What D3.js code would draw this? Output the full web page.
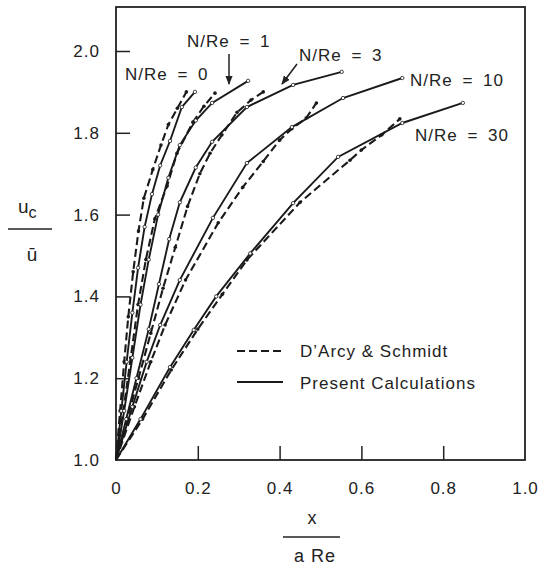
<!DOCTYPE html>
<html>
<head>
<meta charset="utf-8">
<script src="https://cdn.jsdelivr.net/npm/d3@7/dist/d3.min.js"></script>
<style>
  body { margin: 0; background: #fff; }
  svg text { font-family: "Liberation Sans", Arial, sans-serif; fill: #222; }
</style>
</head>
<body>
<svg id="chart" width="540" height="570"></svg>
<script>
// axis ticks
var xTicks = [0, 0.2, 0.4, 0.6, 0.8, 1.0];
var yTicks = [1.0, 1.2, 1.4, 1.6, 1.8, 2.0];

// D'Arcy & Schmidt (dashed), [x/(a Re), uc/ubar]
var darcy0 = [[0,1],[0.01,1.12],[0.02,1.24],[0.03,1.35],[0.042,1.46],[0.055,1.56],[0.068,1.64],[0.09,1.71],[0.11,1.77],[0.128,1.82],[0.15,1.86],[0.172,1.90]];
var darcy1 = [[0,1],[0.018,1.12],[0.036,1.25],[0.054,1.38],[0.073,1.49],[0.095,1.59],[0.125,1.67],[0.149,1.75],[0.188,1.826],[0.215,1.865],[0.242,1.897]];
var darcy3 = [[0,1],[0.027,1.1],[0.055,1.2],[0.085,1.31],[0.115,1.42],[0.145,1.52],[0.175,1.62],[0.205,1.70],[0.23,1.75],[0.259,1.795],[0.296,1.85],[0.33,1.88],[0.36,1.90]];
var darcy10 = [[0,1],[0.045,1.13],[0.085,1.24],[0.12,1.33],[0.17,1.44],[0.25,1.58],[0.31,1.667],[0.36,1.73],[0.40,1.782],[0.43,1.81],[0.465,1.836],[0.49,1.873]];
var darcy30 = [[0,1],[0.065,1.1],[0.135,1.22],[0.2,1.32],[0.26,1.405],[0.32,1.489],[0.45,1.63],[0.572,1.733],[0.60,1.758],[0.65,1.795],[0.694,1.834]];

// Present calculations (solid)
var calc0 = [[0,1],[0.013,1.12],[0.026,1.24],[0.04,1.36],[0.054,1.47],[0.07,1.57],[0.088,1.65],[0.108,1.72],[0.132,1.78],[0.161,1.863],[0.193,1.90]];
var calc1 = [[0,1],[0.02,1.12],[0.04,1.25],[0.06,1.38],[0.08,1.49],[0.103,1.60],[0.128,1.69],[0.156,1.77],[0.195,1.83],[0.235,1.873],[0.323,1.927]];
var calc3 = [[0,1],[0.025,1.1],[0.05,1.2],[0.08,1.32],[0.105,1.43],[0.13,1.54],[0.156,1.63],[0.195,1.715],[0.235,1.778],[0.32,1.863],[0.433,1.917],[0.552,1.949]];
var calc10 = [[0,1],[0.04,1.13],[0.075,1.24],[0.108,1.33],[0.156,1.44],[0.237,1.592],[0.32,1.726],[0.43,1.814],[0.555,1.885],[0.70,1.934]];
var calc30 = [[0,1],[0.06,1.1],[0.132,1.227],[0.19,1.318],[0.245,1.40],[0.328,1.505],[0.433,1.628],[0.543,1.741],[0.70,1.824],[0.848,1.873]];

var darcyCurves = [darcy0, darcy1, darcy3, darcy10, darcy30];
var calcCurves = [calc0, calc1, calc3, calc10, calc30];

var svg = d3.select("#chart");
var x = d3.scaleLinear().domain([0, 1]).range([116, 525]);
var y = d3.scaleLinear().domain([1, 2]).range([460, 51]);

// frame
svg.append("rect")
  .attr("x", x(0)).attr("y", 7)
  .attr("width", x(1) - x(0)).attr("height", y(1) - 7)
  .attr("fill", "none").attr("stroke", "#222").attr("stroke-width", 1.8);

var fmt = function (d) { return d === 0 ? "0" : d3.format(".1f")(d); };

var gx = svg.append("g")
  .attr("transform", "translate(0," + y(1) + ")")
  .call(d3.axisBottom(x).tickValues(xTicks).tickSize(-14).tickPadding(22).tickFormat(fmt));
var gy = svg.append("g")
  .attr("transform", "translate(" + x(0) + ",0)")
  .call(d3.axisLeft(y).tickValues(yTicks).tickSize(-14).tickPadding(16).tickFormat(fmt));

[gx, gy].forEach(function (g) {
  g.select(".domain").remove();
  g.selectAll(".tick line").attr("stroke", "#222").attr("stroke-width", 1.5);
  g.selectAll(".tick text")
    .attr("font-size", 17)
    .attr("letter-spacing", 1)
    .attr("fill", "#222")
    .style("font-family", "'Liberation Sans', Arial, sans-serif");
});
gx.selectAll(".tick").filter(function (d) { return d === 0 || d === 1; }).select("line").remove();
gy.selectAll(".tick").filter(function (d) { return d === 1; }).select("line").remove();

var line = d3.line()
  .x(function (d) { return x(d[0]); })
  .y(function (d) { return y(d[1]); });

var plot = svg.append("g");

plot.selectAll(".darcy")
  .data(darcyCurves)
  .enter().append("path")
  .attr("class", "darcy")
  .attr("d", line)
  .attr("fill", "none")
  .attr("stroke", "#1a1a1a")
  .attr("stroke-width", 2.1)
  .attr("stroke-dasharray", "8,4");

plot.selectAll(".calc")
  .data(calcCurves)
  .enter().append("path")
  .attr("class", "calc")
  .attr("d", line)
  .attr("fill", "none")
  .attr("stroke", "#1a1a1a")
  .attr("stroke-width", 1.9);

// markers
darcyCurves.forEach(function (c) {
  plot.selectAll(null)
    .data(c.slice(1))
    .enter().append("circle")
    .attr("cx", function (d) { return x(d[0]); })
    .attr("cy", function (d) { return y(d[1]); })
    .attr("r", 1.8)
    .attr("fill", "#1a1a1a");
});
calcCurves.forEach(function (c) {
  plot.selectAll(null)
    .data(c.slice(1))
    .enter().append("circle")
    .attr("cx", function (d) { return x(d[0]); })
    .attr("cy", function (d) { return y(d[1]); })
    .attr("r", 1.7)
    .attr("fill", "#fff")
    .attr("stroke", "#1a1a1a")
    .attr("stroke-width", 0.8);
});

// curve labels
var labels = [
  {t: "N/Re = 0", x: 125, y: 80},
  {t: "N/Re = 1", x: 187, y: 47},
  {t: "N/Re = 3", x: 299, y: 61},
  {t: "N/Re = 10", x: 410, y: 86},
  {t: "N/Re = 30", x: 415, y: 141}
];
svg.selectAll(".lab")
  .data(labels)
  .enter().append("text")
  .attr("class", "lab")
  .attr("x", function (d) { return d.x; })
  .attr("y", function (d) { return d.y; })
  .attr("font-size", 17)
  .attr("letter-spacing", 1)
  .attr("word-spacing", 4)
  .text(function (d) { return d.t; });

svg.append("defs").append("marker")
  .attr("id", "arr")
  .attr("viewBox", "0 0 10 10")
  .attr("refX", 9).attr("refY", 5)
  .attr("markerWidth", 6).attr("markerHeight", 8)
  .attr("orient", "auto")
  .append("path").attr("d", "M0,1L10,5L0,9Z").attr("fill", "#222");

svg.append("line")
  .attr("x1", 229).attr("y1", 54).attr("x2", 229).attr("y2", 84)
  .attr("stroke", "#222").attr("stroke-width", 1.5)
  .attr("marker-end", "url(#arr)");
svg.append("line")
  .attr("x1", 297).attr("y1", 64).attr("x2", 282).attr("y2", 84)
  .attr("stroke", "#222").attr("stroke-width", 1.5)
  .attr("marker-end", "url(#arr)");

// legend
var legend = svg.append("g");
legend.append("line")
  .attr("x1", 237).attr("x2", 283).attr("y1", 351).attr("y2", 351)
  .attr("stroke", "#1a1a1a").attr("stroke-width", 2).attr("stroke-dasharray", "8,4");
legend.append("line")
  .attr("x1", 237).attr("x2", 283).attr("y1", 382).attr("y2", 382)
  .attr("stroke", "#1a1a1a").attr("stroke-width", 1.8);
legend.append("text").attr("x", 300).attr("y", 357).attr("font-size", 17)
  .attr("letter-spacing", 1).text("D\u2019Arcy & Schmidt");
legend.append("text").attr("x", 300).attr("y", 389).attr("font-size", 17)
  .attr("letter-spacing", 1).text("Present Calculations");

// y axis label: uc / ubar
var yl = svg.append("text").attr("x", 18).attr("y", 213).attr("font-size", 19);
yl.append("tspan").text("u");
yl.append("tspan").attr("dy", 5).attr("font-size", 16).text("c");
svg.append("line").attr("x1", 8).attr("x2", 52).attr("y1", 229).attr("y2", 229)
  .attr("stroke", "#222").attr("stroke-width", 1.5);
svg.append("text").attr("x", 32).attr("y", 261).attr("font-size", 19)
  .attr("text-anchor", "middle").text("\u016B");

// x axis label: x / a Re
svg.append("text").attr("x", 312).attr("y", 524).attr("font-size", 18)
  .attr("text-anchor", "middle").text("x");
svg.append("line").attr("x1", 283).attr("x2", 340).attr("y1", 537).attr("y2", 537)
  .attr("stroke", "#222").attr("stroke-width", 1.5);
svg.append("text").attr("x", 315).attr("y", 562).attr("font-size", 18)
  .attr("letter-spacing", 1).attr("text-anchor", "middle").text("a Re");
</script>
</body>
</html>
